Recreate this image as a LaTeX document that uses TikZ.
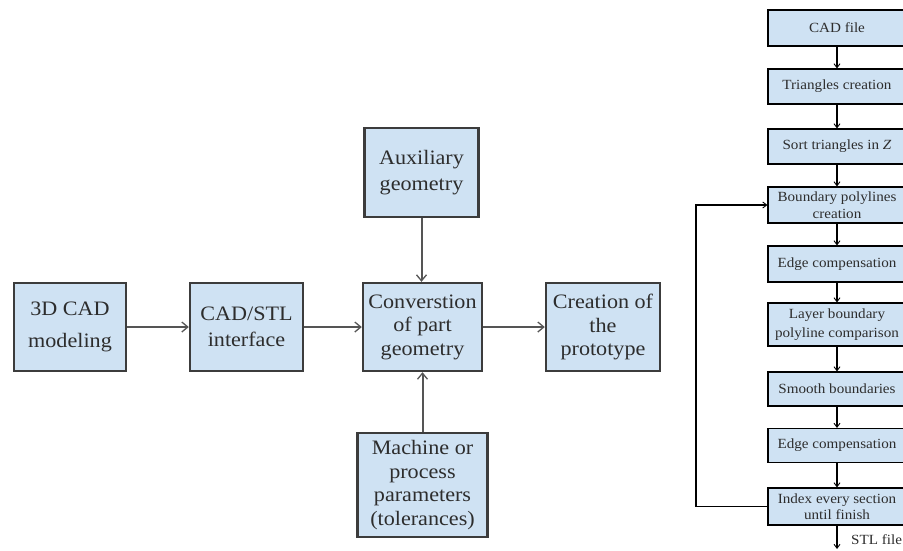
\documentclass[tikz,border=0pt]{standalone}
\usepackage{fontspec}
\setmainfont[FakeStretch=1.08]{Liberation Serif}
\usetikzlibrary{arrows.meta}
\definecolor{boxfill}{RGB}{207,226,243}
\definecolor{boxline}{RGB}{60,60,60}
\definecolor{arrline}{RGB}{85,85,85}
\definecolor{txt}{RGB}{45,45,45}
\begin{document}
\begin{tikzpicture}[x=1pt,y=-1pt,
  bigbox/.style={draw=boxline, fill=boxfill, line width=2.4pt, inner sep=0pt, align=center,
    font=\fontsize{20.5}{23.5}\selectfont, text=txt},
  smallbox/.style={draw=black, fill=boxfill, line width=1.1pt, inner sep=0pt, align=center,
    minimum width=138pt, font=\fontsize{14}{16.5}\selectfont, text=txt},
  bigarrow/.style={draw=arrline, line width=2pt, -{Straight Barb[length=6pt,width=10pt,line width=1.3pt]}},
  smallarrow/.style={draw=black, line width=1.1pt, -{Straight Barb[length=4pt,width=6pt,line width=0.9pt]}}]
\useasboundingbox (0,0) rectangle (903,550);
\clip (0,0) rectangle (903,550);
% left flow
\node[bigbox, minimum width=112pt, minimum height=88pt] (cad3d) at (70,327) {3D CAD\\[8pt]modeling};
\node[bigbox, minimum width=113pt, minimum height=88pt] (stl) at (246.5,327) {CAD/STL\\[3pt]interface};
\node[bigbox, minimum width=119pt, minimum height=88pt] (conv) at (422.5,327) {Converstion\\of part\\geometry};
\node[bigbox, minimum width=114pt, minimum height=88pt] (proto) at (603,327) {Creation of\\the\\prototype};
\node[bigbox, minimum width=114pt, minimum height=89pt] (aux) at (421.5,172.5) {Auxiliary\\[2pt]geometry};
\node[bigbox, minimum width=130pt, minimum height=104pt] (mach) at (422.5,485) {Machine or\\process\\parameters\\(tolerances)};
\draw[bigarrow] (cad3d) -- (stl);
\draw[bigarrow] (stl) -- (conv);
\draw[bigarrow] (conv) -- (proto);
\draw[bigarrow] (aux.south) -- (aux.south |- conv.north);
\draw[bigarrow] (mach.north) -- (mach.north |- conv.south);
% right column
\node[smallbox, minimum height=36pt] (r1) at (837,28) {CAD file};
\node[smallbox, minimum height=35pt] (r2) at (837,86.5) {Triangles creation};
\node[smallbox, minimum height=35pt] (r3) at (837,146.5) {Sort triangles in \textit{Z}};
\node[smallbox, minimum height=36pt] (r4) at (837,205) {Boundary polylines\\creation};
\node[smallbox, minimum height=36pt] (r5) at (837,264) {Edge compensation};
\node[smallbox, minimum height=43pt] (r6) at (837,324.5) {Layer boundary\\[3pt]polyline comparison};
\node[smallbox, minimum height=34pt] (r7) at (837,389) {Smooth boundaries};
\node[smallbox, minimum height=34pt] (r8) at (837,445.5) {Edge compensation};
\node[smallbox, minimum height=37pt] (r9) at (837,506.5) {Index every section\\until finish};
\foreach \a/\b in {r1/r2,r2/r3,r3/r4,r4/r5,r5/r6,r6/r7,r7/r8,r8/r9}
  \draw[smallarrow] (\a) -- (\b);
\coordinate (lp) at (696,0);
\draw[smallarrow] (r9.west) -- (r9.west -| lp) -- (r4.west -| lp) -- (r4.west);
\coordinate (stlend) at (837,549);
\draw[smallarrow] (r9.south) -- (stlend);
\node[anchor=west, inner sep=0pt, font=\fontsize{14}{16}\selectfont, text=txt] (stllabel) at (851,540) {STL file};
\end{tikzpicture}
\end{document}
